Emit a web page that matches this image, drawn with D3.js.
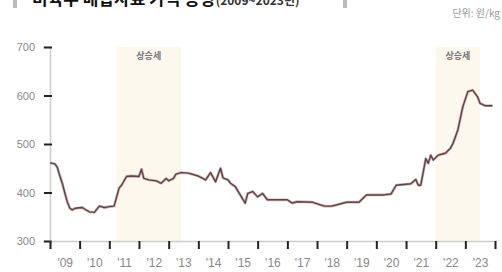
<!DOCTYPE html>
<html><head><meta charset="utf-8">
<script src="https://cdn.jsdelivr.net/npm/d3@7"></script>
<style>
html,body{margin:0;padding:0;background:#fff;}
svg{display:block;font-family:"Noto Sans CJK KR","Noto Sans",sans-serif;}
</style></head>
<body><svg id="c" width="502" height="272"></svg>
<script>
const months = ["2009-01","2009-03","2009-04","2009-05","2009-06","2009-07","2009-08","2009-09","2009-10","2009-11","2009-12",
"2010-02","2010-03","2010-05","2010-07","2010-09","2010-11","2011-01","2011-03","2011-05","2011-06","2011-08","2011-10",
"2012-01","2012-02","2012-03","2012-05","2012-08","2012-10","2012-12","2013-01","2013-03","2013-04","2013-06","2013-09",
"2014-01","2014-04","2014-06","2014-08","2014-10","2014-11","2015-01","2015-02","2015-04","2015-06","2015-08","2015-09","2015-11",
"2016-01","2016-03","2016-05","2017-01","2017-03","2017-05","2017-11","2018-04","2018-07","2019-01","2019-06","2019-09",
"2020-04","2020-07","2020-09","2021-03","2021-05","2021-06","2021-07","2021-09","2021-10","2021-11","2021-12",
"2022-02","2022-05","2022-07","2022-08","2022-10","2022-12","2023-02","2023-04","2023-06","2023-07","2023-09","2023-12"];
const prices = [461,459,452,435,419,400,381,368,364,367,368,
369,366,360,359,372,369,371,372,409,415,433,434,
433,448,429,426,424,419,429,424,429,438,441,440,
434,426,441,422,450,430,426,419,412,395,378,398,402,
391,398,385,385,378,381,380,372,372,380,380,395,
395,397,415,418,427,415,415,470,460,477,467,
477,481,491,501,529,577,608,611,597,584,579,579];
const yearLabels = ["'09","'10","'11","'12","'13","'14","'15","'16","'17","'18","'19","'20","'21","'22","'23"];
const yTicks = [300,400,500,600,700];
const bandStarts = ["2011-04","2022-01"];
const bandEnds = ["2013-06","2023-07"];
const bandLabel = "상승세";
const title = "비육우 배합사료 가격 동향";
const titleSub = "(2009~2023년)";
const unit = "단위: 원/kg";

const parse = d3.timeParse("%Y-%m");
const svg = d3.select("#c");
const x = d3.scaleTime().domain([new Date(2009,0,1), new Date(2024,0,1)]).range([50,495]);
const y = d3.scaleLinear().domain([300,700]).range([241,47]);

// bands
bandStarts.forEach((s,i)=>{
  const x0 = x(parse(s)), x1 = x(parse(bandEnds[i]));
  svg.append("rect").attr("x",x0).attr("y",y(700)).attr("width",x1-x0).attr("height",y(300)-y(700)).attr("fill","#fdf8ee");
  svg.append("text").attr("x",(x0+x1)/2).attr("y",y(700)+12).attr("text-anchor","middle")
    .attr("font-size",9).attr("font-weight","bold").attr("fill","#777").text(bandLabel);
});

// y axis
const yAxis = svg.append("g").attr("transform","translate(50,0)")
  .call(d3.axisLeft(y).tickValues(yTicks).tickSize(7).tickPadding(8));
yAxis.select(".domain").attr("stroke","#ccc").attr("stroke-width",1.5);
yAxis.selectAll(".tick line").attr("stroke","#222").attr("stroke-width",2).attr("x2",-8).attr("transform","translate(2,0)");
yAxis.selectAll(".tick text").attr("fill","#888").attr("font-size",11).attr("font-family","Liberation Sans, Arial, sans-serif");

// x axis ticks
const years = d3.range(2009,2025).map(yy=>new Date(yy,0,1));
const xAxis = svg.append("g").attr("transform","translate(0,241)")
  .call(d3.axisBottom(x).tickValues(years).tickSize(8).tickFormat(""));
xAxis.select(".domain").attr("stroke","#ccc").attr("stroke-width",1.5);
xAxis.selectAll(".tick line").attr("stroke","#222").attr("stroke-width",2);

const mids = d3.range(2009,2024).map(yy=>new Date(yy,6,1));
const xLab = svg.append("g").attr("transform","translate(0,241)")
  .call(d3.axisBottom(x).tickValues(mids).tickSize(0).tickPadding(17).tickFormat((d,i)=>yearLabels[i]));
xLab.select(".domain").remove();
xLab.selectAll(".tick text").attr("fill","#888").attr("font-size",12).attr("font-family","Liberation Sans, Arial, sans-serif");

// line
const data = months.map((m,i)=>({d:parse(m), v:prices[i]}));
const line = d3.line().x(d=>x(d.d)).y(d=>y(d.v));
svg.append("path").datum(data).attr("d",line).attr("fill","none")
  .attr("stroke","#cfb3b4").attr("stroke-width",2.8).attr("stroke-linejoin","round");
svg.append("path").datum(data).attr("d",line).attr("fill","none")
  .attr("stroke","#5a4546").attr("stroke-width",1.4).attr("stroke-linejoin","round");

// title (cut off at top)
svg.append("rect").attr("x",13).attr("y",-6).attr("width",4).attr("height",14).attr("fill","#bbb");
svg.append("rect").attr("x",343).attr("y",-6).attr("width",4).attr("height",14).attr("fill","#bbb");
const t = svg.append("text").attr("x",32).attr("y",5).attr("fill","#111");
t.append("tspan").attr("font-size",17).attr("font-weight","bold").text(title);
t.append("tspan").attr("font-size",12).attr("font-weight","bold").attr("fill","#333").text(titleSub);
svg.append("text").attr("x",500).attr("y",17).attr("text-anchor","end").attr("font-size",10).attr("fill","#999").text(unit);
</script></body></html>
